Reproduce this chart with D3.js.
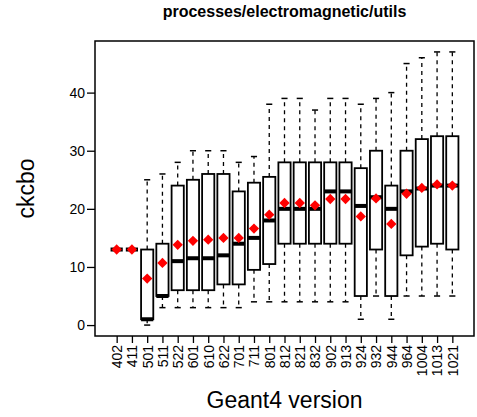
<!DOCTYPE html>
<html>
<head>
<meta charset="utf-8">
<script src="https://cdn.jsdelivr.net/npm/d3@7"></script>
<style>
  body { margin: 0; background: #fff; }
  text { font-family: "Liberation Sans", Arial, sans-serif; }
</style>
</head>
<body>
<div id="chart"></div>
<script>
(function(){
  // Geant4 versions along the x axis
  const versions = ["402","411","501","511","522","601","610","622","701","711","801",
    "812","821","832","902","913","924","932","944","964","1004","1013","1021"];
  // boxplot stats per version
  const whiskLo = [13,13,0,3,3,3,3,3,3,4,4,4,4,4,4,4,1,5,1,5,5,5,5];
  const q1 = [13,13,1,5,6,6,6,7,7,9.5,10.5,14,14,14,14,14,5,13,5,12,13.5,14,13];
  const median = [13,13,1,5,11,11.5,11.5,12,14,15,18,20,20,20,23,23,20.5,22,20,23,23.5,24,24];
  const q3 = [13,13,13,14,24,25,26,26,23,24.5,25.5,28,28,28,28,28,27,30,24,30,32,32.5,32.5];
  const whiskHi = [13,13,25,26,28,30,30,30,28,29,38,39,39,37,39,39,38,39,40,45,46,47,47];
  const means = [13,13,8,10.7,13.8,14.5,14.7,15,15,16.6,19,21,21,20.6,21.7,21.7,18.7,21.8,17.4,22.6,23.6,24.2,24];
  const yTicks = [0,10,20,30,40];

  const width = 477, height = 417;
  const plot = { left: 95, right: 474, top: 41, bottom: 336 };

  const data = versions.map((v, i) => ({
    name: v, idx: i + 1, lo: whiskLo[i], q1: q1[i], med: median[i],
    q3: q3[i], hi: whiskHi[i], mean: means[i]
  }));

  const n = versions.length;
  const x = d3.scaleLinear()
    .domain([0.5 - 0.04 * n, n + 0.5 + 0.04 * n])
    .range([plot.left, plot.right]);
  const y = d3.scaleLinear()
    .domain([0 - 0.04 * 47, 47 + 0.04 * 47])
    .range([plot.bottom, plot.top]);

  const svg = d3.select("#chart").append("svg")
    .attr("width", width)
    .attr("height", height);

  const boxW = 0.8 * (x(2) - x(1));

  const g = svg.append("g");
  const boxes = g.selectAll(".bx")
    .data(data)
    .enter().append("g")
    .attr("class", "bx");

  // dashed whiskers
  boxes.append("line")
    .attr("x1", d => x(d.idx)).attr("x2", d => x(d.idx))
    .attr("y1", d => y(d.q3)).attr("y2", d => y(d.hi))
    .attr("stroke", "#000").attr("stroke-width", 1.3)
    .attr("stroke-dasharray", "4,4");
  boxes.append("line")
    .attr("x1", d => x(d.idx)).attr("x2", d => x(d.idx))
    .attr("y1", d => y(d.q1)).attr("y2", d => y(d.lo))
    .attr("stroke", "#000").attr("stroke-width", 1.3)
    .attr("stroke-dasharray", "4,4");
  // staples
  [d => d.hi, d => d.lo].forEach(f => {
    boxes.append("line")
      .attr("x1", d => x(d.idx) - boxW / 4).attr("x2", d => x(d.idx) + boxW / 4)
      .attr("y1", d => y(f(d))).attr("y2", d => y(f(d)))
      .attr("stroke", "#000").attr("stroke-width", 1.5);
  });
  // boxes
  boxes.append("rect")
    .attr("x", d => x(d.idx) - boxW / 2)
    .attr("width", boxW)
    .attr("y", d => y(d.q3))
    .attr("height", d => Math.max(0, y(d.q1) - y(d.q3)))
    .attr("fill", "#fff")
    .attr("stroke", "#000")
    .attr("stroke-width", 1.8);
  // medians
  boxes.append("line")
    .attr("x1", d => x(d.idx) - boxW / 2).attr("x2", d => x(d.idx) + boxW / 2)
    .attr("y1", d => y(d.med)).attr("y2", d => y(d.med))
    .attr("stroke", "#000").attr("stroke-width", 4);
  // means as red diamonds
  boxes.append("path")
    .attr("d", d3.symbol().type(d3.symbolDiamond2).size(68))
    .attr("transform", d => `translate(${x(d.idx)},${y(d.mean)})`)
    .attr("fill", "#ff0000");

  // frame
  svg.append("rect")
    .attr("x", plot.left).attr("y", plot.top)
    .attr("width", plot.right - plot.left)
    .attr("height", plot.bottom - plot.top)
    .attr("fill", "none").attr("stroke", "#000").attr("stroke-width", 1.5);

  // y axis
  const yAxis = svg.append("g")
    .attr("transform", `translate(${plot.left},0)`)
    .call(d3.axisLeft(y).tickValues(yTicks).tickSize(8).tickPadding(2));
  yAxis.select(".domain").remove();
  yAxis.selectAll("line").attr("stroke-width", 1.3);
  yAxis.selectAll("text").attr("font-size", 14).attr("fill", "#000")
    .style("font-family", "'Liberation Sans', Arial, sans-serif");

  // x axis
  const xAxis = svg.append("g")
    .attr("transform", `translate(0,${plot.bottom})`)
    .call(d3.axisBottom(x).tickValues(data.map(d => d.idx))
      .tickFormat((d, i) => versions[i]).tickSize(7));
  xAxis.select(".domain").remove();
  xAxis.selectAll("line").attr("stroke-width", 1.3);
  xAxis.selectAll("text")
    .attr("font-size", 14).attr("fill", "#000")
    .style("font-family", "'Liberation Sans', Arial, sans-serif")
    .attr("text-anchor", "end")
    .attr("dy", "0.35em")
    .attr("y", 0)
    .attr("transform", "translate(0,9) rotate(-90)");

  // title and axis labels
  svg.append("text")
    .attr("x", (plot.left + plot.right) / 2).attr("y", 17)
    .attr("text-anchor", "middle")
    .attr("font-weight", "bold").attr("font-size", 16)
    .text("processes/electromagnetic/utils");
  svg.append("text")
    .attr("x", (plot.left + plot.right) / 2).attr("y", 408)
    .attr("text-anchor", "middle")
    .attr("font-size", 23)
    .text("Geant4 version");
  svg.append("text")
    .attr("transform", `translate(34,${(plot.top + plot.bottom) / 2}) rotate(-90)`)
    .attr("text-anchor", "middle")
    .attr("font-size", 23)
    .text("ckcbo");
})();
</script>
</body>
</html>
